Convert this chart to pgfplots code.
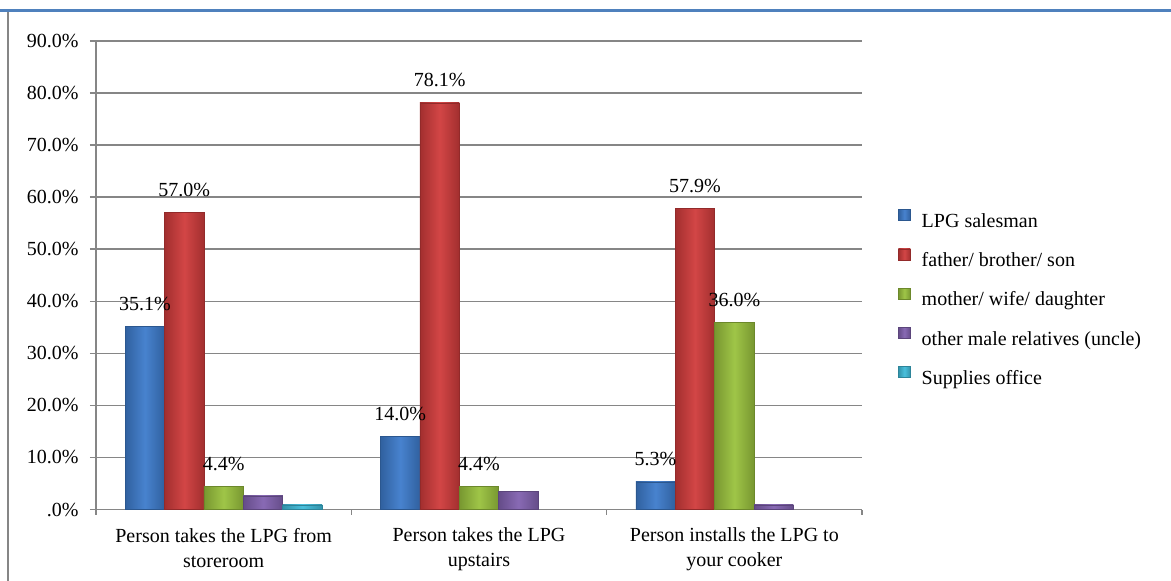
\documentclass[border=0pt]{standalone}
\usepackage{fontspec}
\setmainfont{Liberation Serif}
\usepackage{pgfplots}
\pgfplotsset{compat=1.18}

\definecolor{cBlue}{RGB}{62,124,204}
\definecolor{cRed}{RGB}{208,60,60}
\definecolor{cGreen}{RGB}{154,194,62}
\definecolor{cPurple}{RGB}{130,98,176}
\definecolor{cCyan}{RGB}{64,188,218}
\definecolor{gridgray}{RGB}{134,134,134}
\definecolor{frameblue}{RGB}{79,129,189}

% each bar is its own path, so the shading runs across a single bar
\tikzset{
  bevelbar/.style={draw=#1!70!black, line width=0.6pt,
    left color=#1!78!black, right color=#1!78!black, middle color=#1!95!white},
}
\pgfplotsset{
  pct/.style={nodes near coords={\pgfmathprintnumber[fixed,fixed zerofill,precision=1]{\pgfplotspointmeta}\%}},
  s1/.style={bevelbar=cBlue,   bar shift=-78.8pt},
  s2/.style={bevelbar=cRed,    bar shift=-39.4pt},
  s3/.style={bevelbar=cGreen,  bar shift=0pt},
  s4/.style={bevelbar=cPurple, bar shift=39.4pt},
  s5/.style={bevelbar=cCyan,   bar shift=78.8pt},
}

\begin{document}
\begin{tikzpicture}[font=\fontsize{20pt}{25pt}\selectfont]
\useasboundingbox (0,0) rectangle (1171pt,-581pt);
% frame of the chart area
\draw[frameblue, line width=3pt] (0,-10.7pt) -- (1171pt,-10.7pt);
\draw[gridgray, line width=1.5pt] (8pt,-12pt) -- (8pt,-581pt);
\begin{axis}[
  at={(96pt,-509.5pt)}, anchor=south west,
  scale only axis, width=766pt, height=468.5pt,
  xmin=-0.5, xmax=2.5, ymin=0, ymax=90,
  ybar=0pt, bar width=39.4pt,
  axis lines*=left,
  axis line style={gridgray, line width=1.5pt},
  ymajorgrids, grid style={gridgray, line width=1.5pt},
  ytick={0,10,...,90},
  yticklabels={.0\%,10.0\%,20.0\%,30.0\%,40.0\%,50.0\%,60.0\%,70.0\%,80.0\%,90.0\%},
  xtick={0,1,2},
  minor xtick={-0.5,0.5,1.5,2.5},
  tick align=outside,
  major tick length=6pt, minor tick length=5pt,
  tick style={gridgray, line width=1.5pt},
  major x tick style={draw=none},
  xticklabels={{Person takes the LPG from\\storeroom},
               {Person takes the LPG\\upstairs},
               {Person installs the LPG to\\your cooker}},
  xticklabel style={align=center, yshift=-9pt, font=\fontsize{20pt}{25pt}\selectfont},
  yticklabel style={xshift=-8pt, font=\fontsize{20pt}{25pt}\selectfont},
  /pgf/number format/assume math mode=true,
  legend style={at={(1.043,0.45)}, anchor=west, draw=none, fill=none,
    row sep=17.7pt, font=\fontsize{20pt}{25pt}\selectfont},
  legend cell align=left,
  legend image code/.code={
    \path[#1] (0pt,0.5pt) rectangle (12pt,11.5pt);
    \path (21pt,0pt);
  },
  every node near coord/.append style={black, anchor=base, yshift=16pt,
    inner sep=0pt, font=\fontsize{20pt}{25pt}\selectfont},
  clip=false,
]
% LPG salesman
\addplot[s1, pct] coordinates {(0,35.1)};
\addplot[s1, pct, forget plot] coordinates {(1,14.0)};
\addplot[s1, pct, forget plot] coordinates {(2,5.3)};
% father/ brother/ son
\addplot[s2, pct] coordinates {(0,57.0)};
\addplot[s2, pct, forget plot] coordinates {(1,78.1)};
\addplot[s2, pct, forget plot] coordinates {(2,57.9)};
% mother/ wife/ daughter
\addplot[s3, pct] coordinates {(0,4.4)};
\addplot[s3, pct, forget plot] coordinates {(1,4.4)};
\addplot[s3, pct, forget plot] coordinates {(2,36.0)};
% other male relatives (uncle)
\addplot[s4] coordinates {(0,2.6)};
\addplot[s4, forget plot] coordinates {(1,3.5)};
\addplot[s4, forget plot] coordinates {(2,0.9)};
% Supplies office
\addplot[s5] coordinates {(0,0.9)};
\legend{LPG salesman, father/ brother/ son, mother/ wife/ daughter,
        other male relatives (uncle), Supplies office}
\end{axis}
\end{tikzpicture}
\end{document}
